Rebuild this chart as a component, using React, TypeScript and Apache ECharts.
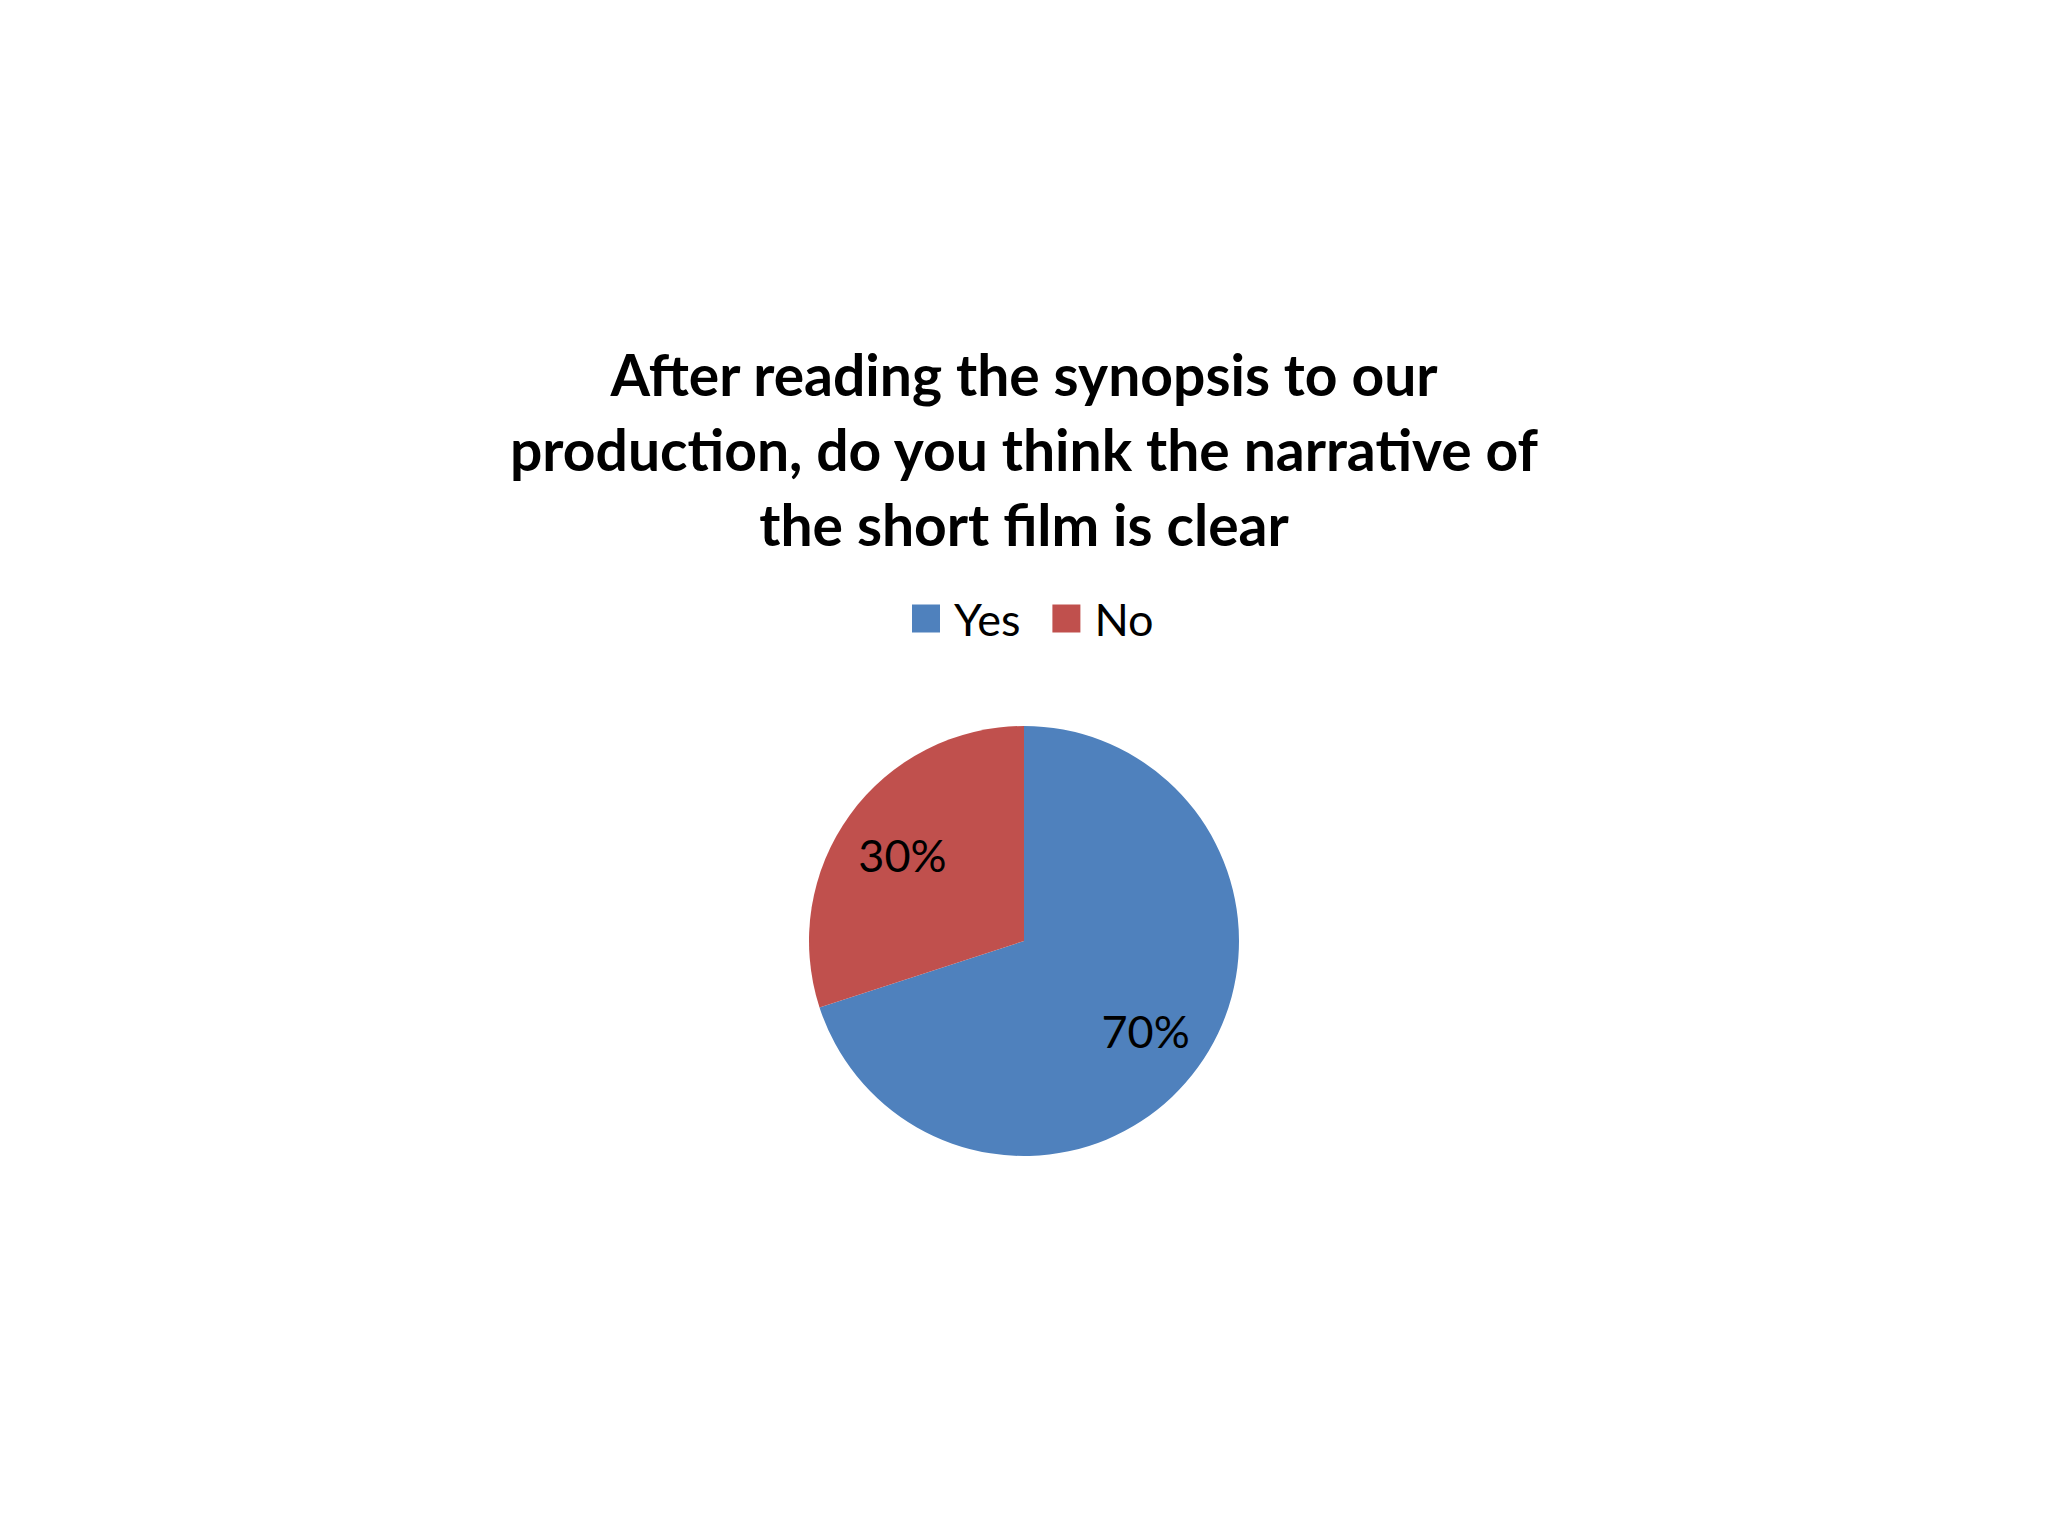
import React, { useEffect, useRef } from "react";
import * as echarts from "echarts";

const titleLines = [
  "After reading the synopsis to our",
  "production, do you think the narrative of",
  "the short film is clear",
];
const categories = ["Yes", "No"];
const values = [70, 30];
const colors = ["#4F81BD", "#C0504D"];

export default function App() {
  const ref = useRef<HTMLDivElement>(null);
  useEffect(() => {
    document.body.style.margin = "0";
    const chart = echarts.init(ref.current!, undefined, { renderer: "svg" });
    const data = categories.map((name, i) => ({
      name,
      value: values[i],
      itemStyle: { color: colors[i] },
    }));
    const R = 215;
    chart.setOption({
      animation: false,
      backgroundColor: "#ffffff",
      title: {
        text: titleLines.join("\n"),
        left: "center",
        top: 331,
        textStyle: {
          fontFamily: "Lato",
          fontWeight: "bold",
          fontSize: 57,
          lineHeight: 75,
          color: "#000000",
        },
      },
      legend: {
        data: categories,
        left: 907,
        top: 591,
        itemWidth: 28,
        itemHeight: 28,
        itemGap: 32,
        icon: "rect",
        textStyle: {
          fontFamily: "Lato",
          fontSize: 45,
          color: "#000000",
          padding: [0, 0, 0, 9],
        },
      },
      series: [
        {
          type: "pie",
          center: [1024, 941],
          radius: [0, R],
          startAngle: 90,
          clockwise: true,
          data,
          label: { show: false },
          labelLine: { show: false },
          silent: true,
        },
        {
          type: "pie",
          center: [1024, 943],
          radius: [R * 0.37, R],
          startAngle: 90,
          clockwise: true,
          data: categories.map((name, i) => ({ name, value: values[i] })),
          itemStyle: { color: "rgba(0,0,0,0)" },
          label: {
            show: true,
            position: "inside",
            formatter: "{d}%",
            fontFamily: "Lato",
            fontSize: 45,
            color: "#000000",
          },
          labelLine: { show: false },
          silent: true,
          legendHoverLink: false,
        },
      ],
    });
    return () => chart.dispose();
  }, []);
  return <div ref={ref} style={{ width: 2048, height: 1536 }} />;
}
